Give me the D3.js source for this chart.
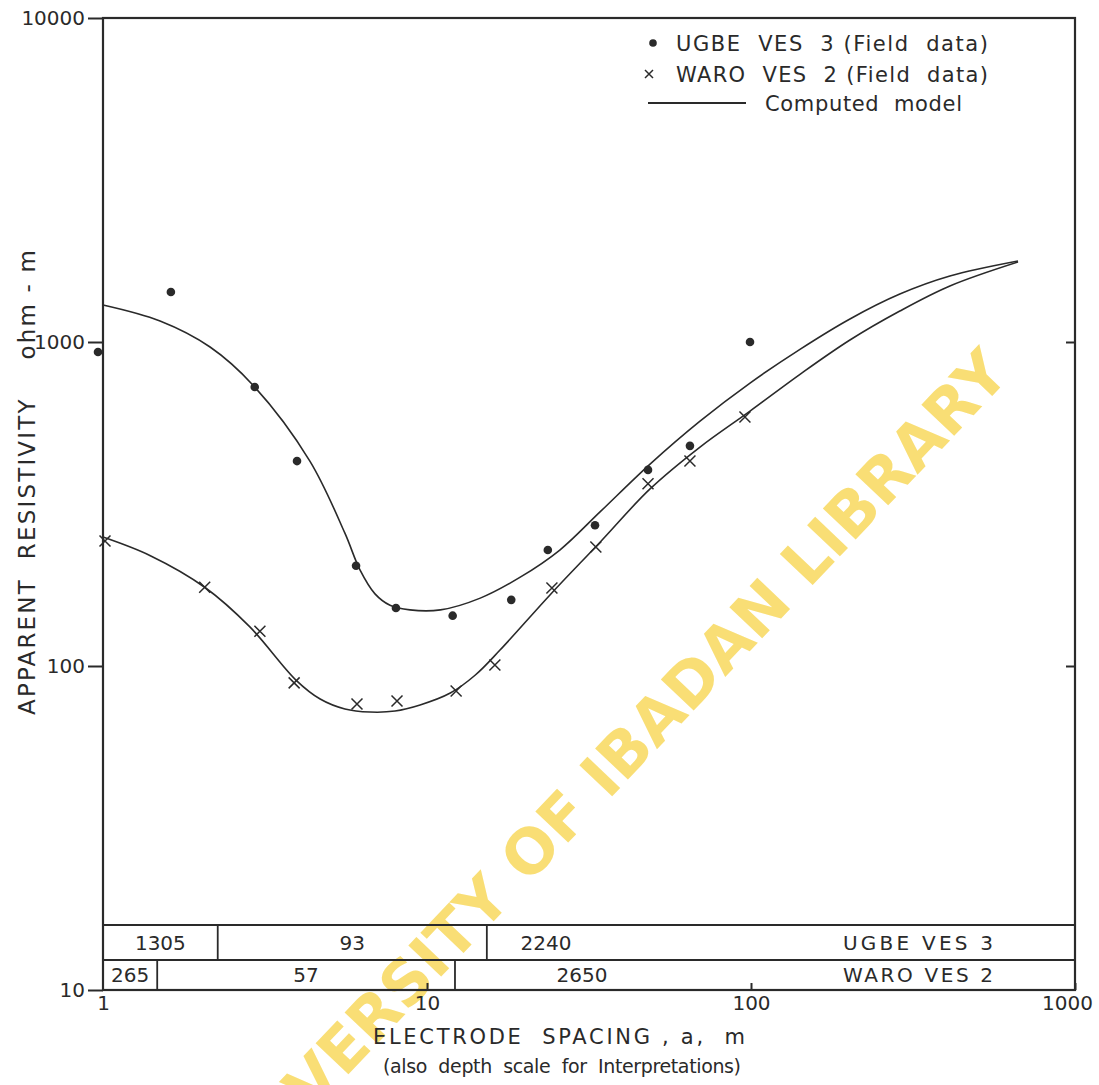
<!DOCTYPE html>
<html>
<head>
<meta charset="utf-8">
<script src="https://cdn.jsdelivr.net/npm/d3@7"></script>
<style>
  body { margin: 0; background: #fff; }
  svg text { font-family: "DejaVu Sans", sans-serif; fill: #2a2a2a; }
</style>
</head>
<body>
<script>
// field data, electrode spacing a (m) and apparent resistivity (ohm-m)
const ugbeSpacing = [1, 1.62, 2.94, 3.97, 6.04, 8.02, 12.0, 18.2, 23.6, 33.0, 48.1, 64.8, 99.3];
const ugbeRho = [931, 1427, 726, 429, 204, 151, 143, 160, 228, 272, 403, 478, 1000];

const waroSpacing = [1, 2.06, 3.05, 3.89, 6.08, 8.08, 12.3, 16.2, 24.3, 33.2, 48.1, 64.8, 95.8];
const waroRho = [243, 175, 128, 88.7, 76.3, 78.0, 83.7, 100.7, 174, 233, 365, 429, 587];

// computed model curves
const ugbeModelSpacing = [1, 1.50, 2.14, 2.90, 4.35, 5.58, 6.21, 6.91, 7.69, 8.86, 11.0, 14.6, 19.4, 25.7, 34.2, 48.8, 69.6, 99.3, 142, 202, 288, 411, 667];
const ugbeModelRho = [1301, 1161, 965, 737, 429, 257, 198, 167, 154, 149, 149, 162, 188, 228, 299, 420, 570, 747, 951, 1178, 1406, 1598, 1778];

const waroModelSpacing = [1, 1.40, 2.06, 2.84, 3.94, 4.68, 5.58, 6.67, 7.97, 9.52, 11.8, 14.1, 16.8, 24.0, 34.2, 48.8, 69.6, 99.3, 142, 202, 288, 411, 667];
const waroModelRho = [250, 219, 175, 132, 90.5, 79.1, 73.7, 72.1, 72.6, 75.8, 82.5, 93.8, 112, 166, 241, 352, 474, 612, 796, 1014, 1246, 1489, 1766];

// interpreted layers: resistivity and depth of layer bases (m)
const ugbeLayerRho = [1305, 93, 2240];
const ugbeLayerBase = [2.26, 15.3];
const waroLayerRho = [265, 57, 2650];
const waroLayerBase = [1.47, 12.2];

const xTicks = [1, 10, 100, 1000];
const yTicks = [10, 100, 1000, 10000];

const W = 1099, H = 1085;
const mLeft = 103, mRight = 1075, mTop = 18, mBottom = 990;
const ink = "#2a2a2a";

const svg = d3.select("body").append("svg")
  .attr("width", W).attr("height", H);

svg.append("rect").attr("width", W).attr("height", H).attr("fill", "#fff");

const x = d3.scaleLog().domain([1, 1000]).range([mLeft, mRight]);
const y = d3.scaleLog().domain([10, 10000]).range([mBottom, mTop]);

// watermark
svg.append("text")
  .attr("transform", "translate(606,778) rotate(-46.5)")
  .attr("text-anchor", "middle")
  .attr("dominant-baseline", "middle")
  .style("font-family", "'DejaVu Sans', sans-serif")
  .style("font-weight", "bold")
  .style("font-size", "62px")
  .style("fill", "#f7d448")
  .style("opacity", 0.75)
  .text("UNIVERSITY OF IBADAN LIBRARY");

// axes
const yAxis = svg.append("g")
  .attr("transform", `translate(${mLeft},0)`)
  .call(d3.axisLeft(y).tickValues(yTicks).tickFormat(d3.format("d")).tickSizeInner(15).tickSizeOuter(0).tickPadding(3));

const xAxis = svg.append("g")
  .attr("transform", `translate(0,${mBottom})`)
  .call(d3.axisBottom(x).tickValues(xTicks).tickFormat(d3.format("d")).tickSizeInner(-7).tickSizeOuter(0).tickPadding(6));

const rAxis = svg.append("g")
  .attr("transform", `translate(${mRight},0)`)
  .call(d3.axisRight(y).tickValues([100, 1000]).tickFormat("").tickSizeInner(-9).tickSizeOuter(0));

[yAxis, xAxis, rAxis].forEach(g => {
  g.select(".domain").remove();
  g.selectAll("line").attr("stroke", ink).attr("stroke-width", 2);
  g.selectAll("text").style("font-size", "20px").style("fill", ink);
});
xAxis.selectAll(".tick").filter(d => d === 1).select("line").remove();
xAxis.selectAll(".tick").filter(d => d === 1000).select("text").attr("dx", -8);

// frame
svg.append("rect")
  .attr("x", mLeft).attr("y", mTop)
  .attr("width", mRight - mLeft).attr("height", mBottom - mTop)
  .attr("fill", "none").attr("stroke", ink).attr("stroke-width", 2.2);

// layer table at the foot of the plot
const rowTop = [925, 960];
const rowBottom = [960, mBottom];
const tables = [
  { rho: ugbeLayerRho, base: ugbeLayerBase, name: "UGBE VES 3", thirdAt: 23.3 },
  { rho: waroLayerRho, base: waroLayerBase, name: "WARO VES 2", thirdAt: 30.1 }
];

tables.forEach((t, i) => {
  const g = svg.append("g");
  g.append("line")
    .attr("x1", mLeft).attr("x2", mRight)
    .attr("y1", rowTop[i]).attr("y2", rowTop[i])
    .attr("stroke", ink).attr("stroke-width", 1.8);
  g.selectAll("line.div").data(t.base).enter().append("line")
    .attr("class", "div")
    .attr("x1", d => x(d)).attr("x2", d => x(d))
    .attr("y1", rowTop[i]).attr("y2", rowBottom[i])
    .attr("stroke", ink).attr("stroke-width", 1.8);
  const edges = [1, ...t.base];
  const ty = (rowTop[i] + rowBottom[i]) / 2 + 7;
  t.rho.forEach((r, k) => {
    const cx = k < 2 ? (x(edges[k]) + x(edges[k + 1])) / 2 : x(t.thirdAt);
    g.append("text")
      .attr("x", cx).attr("y", ty)
      .attr("text-anchor", "middle")
      .style("font-size", "20px")
      .text(r);
  });
  g.append("text")
    .attr("x", 843).attr("y", ty)
    .attr("textLength", 150)
    .attr("lengthAdjust", "spacing")
    .style("font-size", "20px")
    .text(t.name);
});

// computed model curves
const line = d3.line()
  .x(d => x(d[0]))
  .y(d => y(d[1]))
  .curve(d3.curveCatmullRom.alpha(0.5));

[[ugbeModelSpacing, ugbeModelRho], [waroModelSpacing, waroModelRho]].forEach(([a, r]) => {
  svg.append("path")
    .datum(d3.zip(a, r))
    .attr("d", line)
    .attr("fill", "none")
    .attr("stroke", ink)
    .attr("stroke-width", 1.6);
});

// field data
svg.append("g").selectAll("circle")
  .data(d3.zip(ugbeSpacing, ugbeRho))
  .enter().append("circle")
  .attr("cx", d => x(d[0]) - (d[0] === 1 ? 5 : 0))
  .attr("cy", d => y(d[1]))
  .attr("r", 4.3)
  .attr("fill", ink);

const cross = 5.5;
svg.append("g").selectAll("path")
  .data(d3.zip(waroSpacing, waroRho))
  .enter().append("path")
  .attr("d", d => {
    const px = x(d[0]) + (d[0] === 1 ? 2 : 0), py = y(d[1]);
    return `M${px - cross},${py - cross}L${px + cross},${py + cross}M${px + cross},${py - cross}L${px - cross},${py + cross}`;
  })
  .attr("stroke", ink)
  .attr("stroke-width", 1.5)
  .attr("fill", "none");

// legend
const legend = svg.append("g").style("font-size", "21px");
legend.append("circle").attr("cx", 653).attr("cy", 43).attr("r", 3.8).attr("fill", ink);
legend.append("path")
  .attr("d", "M645,70L653,78M653,70L645,78")
  .attr("stroke", ink).attr("stroke-width", 1.5);
legend.append("line")
  .attr("x1", 648).attr("x2", 746).attr("y1", 103).attr("y2", 103)
  .attr("stroke", ink).attr("stroke-width", 1.8);
const legendText = [
  ["UGBE  VES  3 (Field  data)", 676, 51, 312],
  ["WARO  VES  2 (Field  data)", 676, 82, 312],
  ["Computed  model", 765, 111, 197]
];
legend.selectAll("text").data(legendText).enter().append("text")
  .attr("x", d => d[1]).attr("y", d => d[2])
  .attr("textLength", d => d[3])
  .attr("lengthAdjust", "spacing")
  .style("white-space", "pre")
  .text(d => d[0]);

// axis titles
svg.append("text")
  .attr("x", 373).attr("y", 1044)
  .attr("textLength", 372)
  .attr("lengthAdjust", "spacing")
  .style("font-size", "21px")
  .style("white-space", "pre")
  .text("ELECTRODE  SPACING , a,  m");
svg.append("text")
  .attr("x", 383).attr("y", 1073)
  .attr("textLength", 358)
  .attr("lengthAdjust", "spacing")
  .style("font-size", "19px")
  .style("white-space", "pre")
  .text("(also  depth  scale  for  Interpretations)");
svg.append("text")
  .attr("transform", "translate(35,715) rotate(-90)")
  .attr("textLength", 465)
  .attr("lengthAdjust", "spacing")
  .style("font-size", "23px")
  .style("white-space", "pre")
  .text("APPARENT  RESISTIVITY    ohm - m");
</script>
</body>
</html>
